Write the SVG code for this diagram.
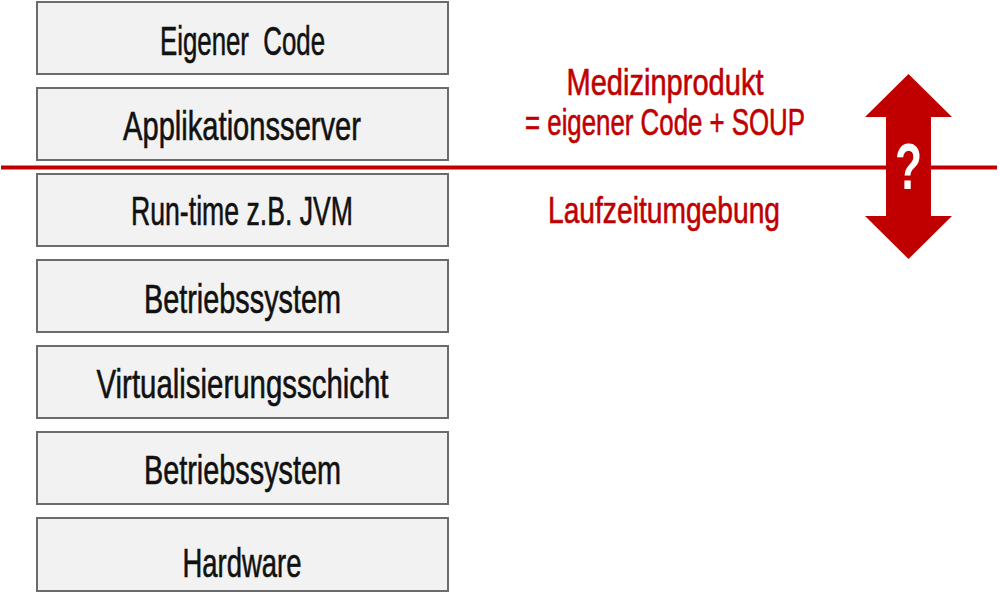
<svg xmlns="http://www.w3.org/2000/svg" width="1000" height="606" viewBox="0 0 1000 606">
<style>
.box{fill:#f2f2f2;stroke:#6b6b6b;stroke-width:2}
.bt{font-family:"Liberation Sans Narrow","Liberation Sans",Arial,sans-serif;font-size:41px;fill:#111;stroke:#111;stroke-width:0.6;text-anchor:middle;white-space:pre}
.rt{font-family:"Liberation Sans Narrow","Liberation Sans",Arial,sans-serif;font-size:37px;fill:#c00000;stroke:#c00000;stroke-width:0.6;text-anchor:middle}
</style>
<rect width="1000" height="606" fill="#ffffff"/>
<g id="node-eigener-code"><rect class="box" x="37" y="2" width="411" height="72"/><text class="bt" x="242.5" y="55" textLength="165" lengthAdjust="spacingAndGlyphs" xml:space="preserve">Eigener  Code</text></g>
<g id="node-applikationsserver"><rect class="box" x="37" y="88" width="411" height="72"/><text class="bt" x="242" y="140" textLength="238" lengthAdjust="spacingAndGlyphs">Applikationsserver</text></g>
<g id="node-runtime"><rect class="box" x="37" y="174" width="411" height="72"/><text class="bt" x="242" y="225" textLength="222" lengthAdjust="spacingAndGlyphs">Run-time z.B. JVM</text></g>
<g id="node-betriebssystem1"><rect class="box" x="37" y="260" width="411" height="72"/><text class="bt" x="242.5" y="312.5" textLength="197" lengthAdjust="spacingAndGlyphs">Betriebssystem</text></g>
<g id="node-virtualisierung"><rect class="box" x="37" y="346" width="411" height="72"/><text class="bt" x="242.5" y="398" textLength="292" lengthAdjust="spacingAndGlyphs">Virtualisierungsschicht</text></g>
<g id="node-betriebssystem2"><rect class="box" x="37" y="432" width="411" height="72"/><text class="bt" x="242.5" y="483.5" textLength="197" lengthAdjust="spacingAndGlyphs">Betriebssystem</text></g>
<g id="node-hardware"><rect class="box" x="37" y="518" width="411" height="73"/><text class="bt" x="242" y="577" textLength="119" lengthAdjust="spacingAndGlyphs">Hardware</text></g>
<g id="connectors">
<line x1="1" y1="167.5" x2="997" y2="167.5" stroke="#c00000" stroke-width="4"/>
</g>
<g id="labels">
<text class="rt" x="665" y="95" textLength="197" lengthAdjust="spacingAndGlyphs">Medizinprodukt</text>
<text class="rt" x="665" y="135" textLength="280" lengthAdjust="spacingAndGlyphs">= eigener Code + SOUP</text>
<text class="rt" x="664" y="223" textLength="232" lengthAdjust="spacingAndGlyphs">Laufzeitumgebung</text>
</g>
<g id="node-arrow">
<polygon points="908.5,74 952,117 931,117 931,216 952,216 908.5,259 865,216 886,216 886,117 865,117" fill="#c00000"/>
<text x="908.5" y="189" font-family="Liberation Sans Narrow,Liberation Sans,Arial,sans-serif" font-size="64" font-weight="bold" fill="#ffffff" text-anchor="middle" textLength="27" lengthAdjust="spacingAndGlyphs">?</text>
</g>
</svg>
